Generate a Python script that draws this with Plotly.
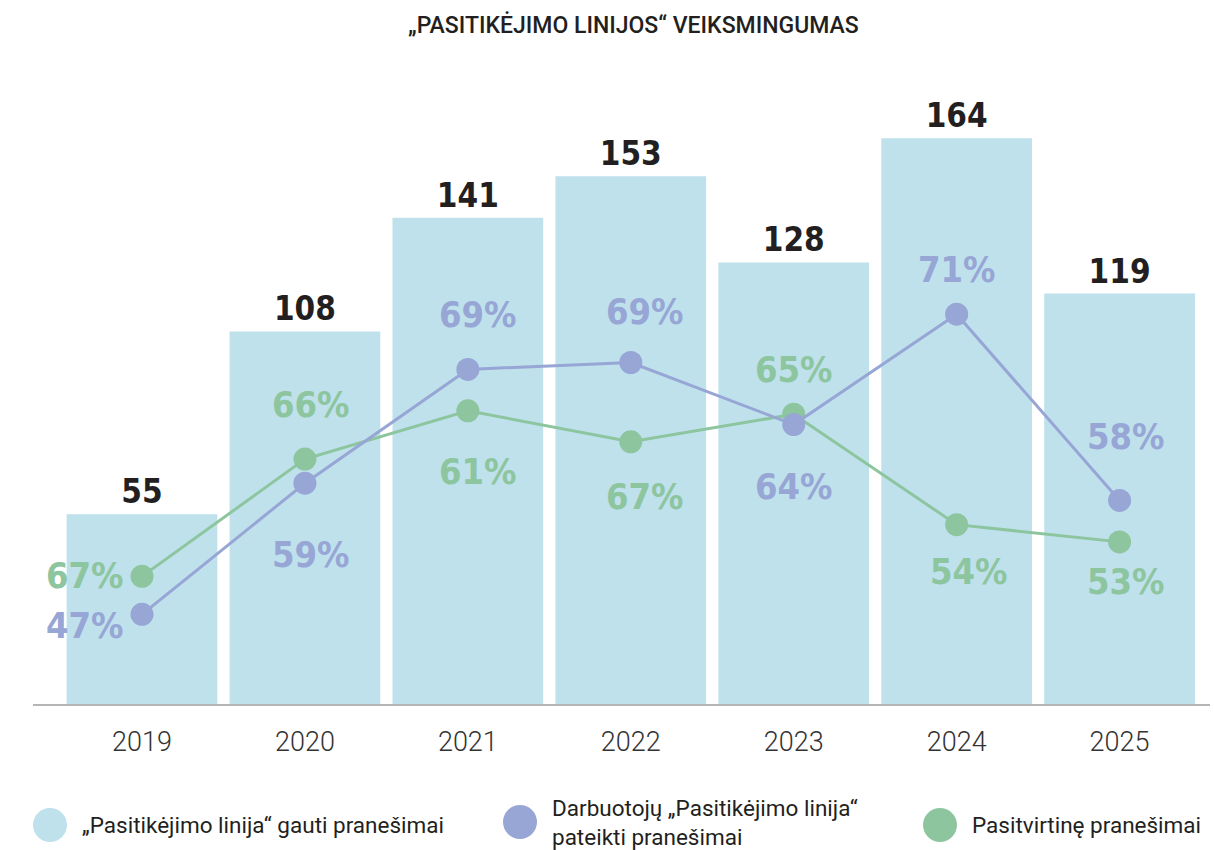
import plotly.graph_objects as go

# Data
years = ["2019", "2020", "2021", "2022", "2023", "2024", "2025"]
received_total = [55, 108, 141, 153, 128, 164, 119]

# Reports submitted by employees (counts) and their share labels
staff_counts = [26, 64, 97, 99, 81, 113, 59]
staff_share = [47, 59, 69, 69, 64, 71, 58]

# Confirmed reports (counts) and their share labels
confirmed_counts = [37, 71, 85, 76, 84, 52, 47]
confirmed_share = [67, 66, 61, 67, 65, 54, 53]

legend_labels = [
    "„Pasitikėjimo linija“ gauti pranešimai",
    "Darbuotojų „Pasitikėjimo linija“<br>pateikti pranešimai",
    "Pasitvirtinę pranešimai",
]

# Styling
BAR_COLOR = "#bee1ec"
BLUE = "#97a6d5"
GREEN = "#8dc59f"
DARK = "#231f20"
NUM_FONT = "DejaVu Sans Condensed"
TEXT_FONT = "Roboto"

# Plot area in pixels
W, H = 1214, 850
PL, PR, PT, PB = 33, 1210, 100, 704

def px_x(x):
    return (x - PL) / (PR - PL)

def px_y(y):
    return (PB - y) / (PB - PT)

# label offsets in pixels (xshift, yshift) relative to each point
staff_offsets = [(-57, -11), (6, -71), (10, 55), (14, 51), (0, -62), (0, 45), (6, 64)]
confirmed_offsets = [(-57, 1), (6, 55), (10, -61), (14, -55), (0, 45), (12, -47), (6, -40)]

fig = go.Figure()

fig.add_trace(go.Bar(
    x=years, y=received_total,
    marker=dict(color=BAR_COLOR, line=dict(width=0)),
    text=[str(v) for v in received_total],
    textposition="outside",
    textfont=dict(family=NUM_FONT, size=33, color=DARK, weight="bold"),
    cliponaxis=False,
    name=legend_labels[0],
    showlegend=False,
))

fig.add_trace(go.Scatter(
    x=years, y=confirmed_counts, mode="lines+markers",
    line=dict(color=GREEN, width=3),
    marker=dict(color=GREEN, size=23),
    cliponaxis=False,
    name=legend_labels[2],
    showlegend=False,
))

fig.add_trace(go.Scatter(
    x=years, y=staff_counts, mode="lines+markers",
    line=dict(color=BLUE, width=3),
    marker=dict(color=BLUE, size=23),
    cliponaxis=False,
    name=legend_labels[1],
    showlegend=False,
))

annotations = []
# category axis: annotations are placed by category index
for i, (val, share, (dx, dy)) in enumerate(zip(staff_counts, staff_share, staff_offsets)):
    annotations.append(dict(
        x=i, y=val, text=f"{share}%", showarrow=False,
        xshift=dx, yshift=dy,
        font=dict(family=NUM_FONT, size=36, color=BLUE, weight="bold"),
    ))
for i, (val, share, (dx, dy)) in enumerate(zip(confirmed_counts, confirmed_share, confirmed_offsets)):
    annotations.append(dict(
        x=i, y=val, text=f"{share}%", showarrow=False,
        xshift=dx, yshift=dy,
        font=dict(family=NUM_FONT, size=36, color=GREEN, weight="bold"),
    ))

# Title
annotations.append(dict(
    x=px_x(633), xref="paper", y=px_y(25), yref="paper", yanchor="middle",
    text="„PASITIKĖJIMO LINIJOS“ VEIKSMINGUMAS", showarrow=False,
    font=dict(family=TEXT_FONT, size=23, color=DARK, weight=500),
))

# Custom legend: circles + labels placed along the bottom
legend_items = [
    (50, 825, BAR_COLOR, legend_labels[0]),
    (520, 822, BLUE, legend_labels[1]),
    (940, 825, GREEN, legend_labels[2]),
]
shapes = []
for cx, cy, col, label in legend_items:
    r = 17
    shapes.append(dict(
        type="circle", xref="paper", yref="paper",
        x0=px_x(cx - r), x1=px_x(cx + r),
        y0=px_y(cy + r), y1=px_y(cy - r),
        fillcolor=col, line=dict(width=0), layer="above",
    ))
    annotations.append(dict(
        x=px_x(cx + 30), xref="paper", xanchor="left",
        y=px_y(cy), yref="paper", yanchor="middle",
        text=label, showarrow=False, align="left",
        font=dict(family=TEXT_FONT, size=22.5, color=DARK),
    ))

fig.update_layout(
    width=W, height=H,
    margin=dict(l=PL, r=W - PR, t=PT, b=H - PB),
    paper_bgcolor="white", plot_bgcolor="white",
    bargap=0.075,
    showlegend=False,
    annotations=annotations,
    shapes=shapes,
    xaxis=dict(
        type="category", range=[-0.669, 6.555],
        showline=True, linecolor="#b5b5b5", linewidth=2,
        showgrid=False, ticks="", ticklabelstandoff=13,
        tickfont=dict(family=TEXT_FONT, size=27, color="#333333", weight=300),
        fixedrange=True,
    ),
    yaxis=dict(
        range=[0, 175.1], visible=False, showgrid=False, fixedrange=True,
    ),
)

fig.write_html("out.html")
